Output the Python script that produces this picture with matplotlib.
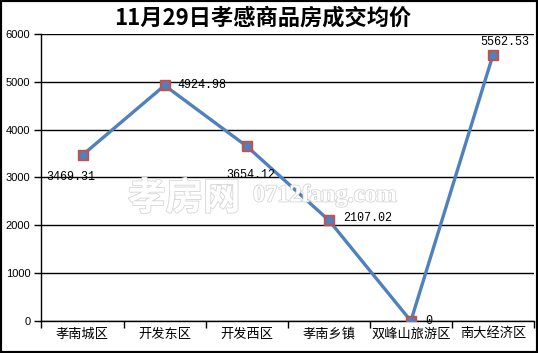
import matplotlib.pyplot as plt
import matplotlib.patheffects as pe
import numpy as np

plt.rcParams['font.family'] = ['Noto Sans CJK SC', 'DejaVu Sans']

districts = ["孝南城区", "开发东区", "开发西区", "孝南乡镇", "双峰山旅游区", "南大经济区"]
avg_price = [3469.31, 4924.98, 3654.12, 2107.02, 0, 5562.53]
y_ticks = [0, 1000, 2000, 3000, 4000, 5000, 6000]
title = "11月29日孝感商品房成交均价"

# label offsets in pixels (dx, dy, ha)
label_offsets = [(-12, -22, "center"), (13, 0, "left"), (4, -29, "center"),
                 (14, 2, "left"), (14, 0, "left"), (12, 13, "center")]

fig = plt.figure(figsize=(5.38, 3.53), dpi=100)
ax = fig.add_axes([0.0771, 0.0907, 0.9155, 0.813])

x = np.arange(len(districts))

# watermark
wm = dict(color="white", zorder=0.5, va="center",
          path_effects=[pe.withStroke(linewidth=1.2, foreground="#d6d6d6")])
fig.text(128 / 538, 1 - 198 / 353, "孝房网", fontsize=27, fontweight="bold",
         ha="left", **wm)
fig.text(253 / 538, 1 - 196 / 353, "0712fang.com", fontsize=17.5,
         fontweight="bold", family="Liberation Serif", ha="left", **wm)

ax.plot(x, avg_price, color="#4F81BD", linewidth=2.4, zorder=3,
        marker="s", markersize=7.5, markerfacecolor="#D0504D",
        markeredgecolor="#C0504D")
ax.plot(x, avg_price, linestyle="none", marker="o", markersize=5,
        color="#4F81BD", zorder=4)

for xi, val, (dx, dy, ha) in zip(x, avg_price, label_offsets):
    txt = f"{val:.2f}" if val else "0"
    ax.annotate(txt, (xi, val), xytext=(dx, dy), textcoords="offset pixels",
                ha=ha, va="center", fontsize=8.5, family="Liberation Mono",
                zorder=5)

ax.set_xlim(-0.5, len(districts) - 0.5)
ax.set_ylim(0, 6000)
ax.set_yticks(y_ticks)
ax.set_yticklabels([str(v) for v in y_ticks], family="Liberation Sans",
                   fontsize=8)
ax.set_xticks(x)
ax.set_xticklabels(districts, fontsize=9.5)
ax.set_xticks(np.arange(-0.5, len(districts)), minor=True)
ax.tick_params(axis="x", which="major", length=0, pad=5)
ax.tick_params(axis="x", which="minor", length=5, direction="out", width=1)
ax.tick_params(axis="y", length=5, direction="out", width=1, pad=3)

ax.grid(axis="y", color="black", linewidth=1)
ax.set_axisbelow(True)
for s in ["top", "right"]:
    ax.spines[s].set_visible(False)
for s in ["left", "bottom"]:
    ax.spines[s].set_color("black")
    ax.spines[s].set_linewidth(1)
ax.patch.set_alpha(0)

fig.text(263 / 538, 1 - 18 / 353, title, fontsize=16, fontweight="semibold",
         ha="center", va="center")

border = plt.Rectangle((0, 0), 1, 1, transform=fig.transFigure, fill=False,
                       edgecolor="black", linewidth=3)
fig.patches.append(border)

fig.savefig("out.png", dpi=100)
